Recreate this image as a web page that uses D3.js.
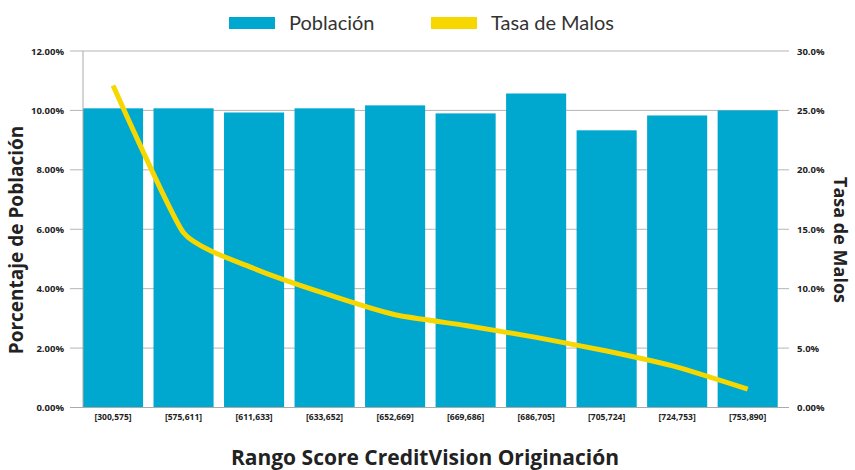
<!DOCTYPE html>
<meta charset="utf-8">
<style>
  body { margin: 0; background: #fff; }
  text { font-family: "Open Sans", Lato, sans-serif; fill: #222; }
</style>
<body>
<script src="https://cdn.jsdelivr.net/npm/d3@7"></script>
<script>
var rangos = ["[300,575]", "[575,611]", "[611,633]", "[633,652]", "[652,669]",
              "[669,686]", "[686,705]", "[705,724]", "[724,753]", "[753,890]"];
var poblacion = [10.07, 10.07, 9.93, 10.07, 10.17, 9.90, 10.57, 9.33, 9.83, 10.0];
var tasaMalos = [27.1, 14.7, 11.7, 9.6, 7.8, 6.9, 5.9, 4.75, 3.4, 1.55];
var ticksIzq = [0, 2, 4, 6, 8, 10, 12];
var ticksDer = [0, 5, 10, 15, 20, 25, 30];

var width = 855, height = 470;
// note: "top" is taken by window.top, so plot edges get their own names
var plotLeft = 83, plotRight = 789, plotTop = 51, plotBottom = 407.5;
var azul = "#00a7cf", amarillo = "#f6d800";

var svg = d3.select("body").append("svg")
  .attr("width", width)
  .attr("height", height);

var x = d3.scaleBand()
  .domain(rangos)
  .range([plotLeft, plotRight])
  .paddingInner(0.148)
  .paddingOuter(0.08)
  .align(0);

var y = d3.scaleLinear().domain([0, 12]).range([plotBottom, plotTop]);
var y2 = d3.scaleLinear().domain([0, 30]).range([plotBottom, plotTop]);

// gridlines behind everything
svg.append("g")
  .selectAll("line")
  .data(ticksIzq)
  .join("line")
  .attr("x1", 70)
  .attr("x2", plotRight)
  .attr("y1", d => y(d))
  .attr("y2", d => y(d))
  .style("stroke", "#b5b5b5")
  .style("stroke-width", 1);

// bars
svg.append("g")
  .selectAll("rect")
  .data(poblacion)
  .join("rect")
  .attr("x", (d, i) => x(rangos[i]))
  .attr("y", d => y(d))
  .attr("width", x.bandwidth())
  .attr("height", d => y(0) - y(d))
  .style("fill", azul);

// axis lines
svg.append("line")
  .attr("x1", plotLeft).attr("x2", plotLeft)
  .attr("y1", plotTop).attr("y2", plotBottom)
  .style("stroke", "#aaa");
svg.append("line")
  .attr("x1", 70).attr("x2", plotRight)
  .attr("y1", plotBottom).attr("y2", plotBottom)
  .style("stroke", "#aaa");

// left ticks
var axisL = d3.axisLeft(y).tickValues(ticksIzq).tickSize(0).tickPadding(0)
  .tickFormat(d => d.toFixed(2) + "%");
var gL = svg.append("g").attr("transform", "translate(64,0)").call(axisL);
gL.select(".domain").remove();
gL.selectAll("text").style("font-size", "9.5px").style("font-weight", "bold");

// right ticks
var axisR = d3.axisRight(y2).tickValues(ticksDer).tickSize(0).tickPadding(0)
  .tickFormat(d => d === 0 ? "0.00%" : d.toFixed(1) + "%");
var gR = svg.append("g").attr("transform", "translate(797,0)").call(axisR);
gR.select(".domain").remove();
gR.selectAll("text").style("font-size", "9.5px").style("font-weight", "bold");

// bottom ticks
var axisB = d3.axisBottom(x).tickSize(0).tickPadding(0);
var gB = svg.append("g").attr("transform", "translate(0," + (plotBottom + 6) + ")").call(axisB);
gB.select(".domain").remove();
gB.selectAll("text").style("font-size", "8.5px").style("font-weight", "bold");

// Tasa de Malos line
var linea = d3.line()
  .x((d, i) => x(rangos[i]) + x.bandwidth() / 2)
  .y(d => y2(d))
  .curve(d3.curveCardinal.tension(0.5));

svg.append("path")
  .datum(tasaMalos)
  .attr("d", linea)
  .style("fill", "none")
  .style("stroke", amarillo)
  .style("stroke-width", 5);

// axis titles
svg.append("text")
  .attr("transform", "translate(23,240) rotate(-90)")
  .attr("text-anchor", "middle")
  .style("font-size", "19px")
  .style("font-weight", "bold")
  .text("Porcentaje de Población");

svg.append("text")
  .attr("transform", "translate(834,240) rotate(90)")
  .attr("text-anchor", "middle")
  .style("font-size", "18px")
  .style("font-weight", "bold")
  .text("Tasa de Malos");

svg.append("text")
  .attr("x", 425)
  .attr("y", 465)
  .attr("text-anchor", "middle")
  .style("font-size", "21px")
  .style("font-weight", "bold")
  .text("Rango Score CreditVision Originación");

// legend
var leyenda = [
  { nombre: "Población", color: azul, x: 229 },
  { nombre: "Tasa de Malos", color: amarillo, x: 431 }
];
var lg = svg.append("g").selectAll("g").data(leyenda).join("g")
  .attr("transform", d => "translate(" + d.x + ",0)");
lg.append("rect")
  .attr("y", 17).attr("width", 46).attr("height", 12)
  .style("fill", d => d.color);
lg.append("text")
  .attr("x", 60).attr("y", 30)
  .style("font-size", "20px")
  .style("fill", "#333")
  .style("font-family", "Lato, sans-serif")
  .text(d => d.nombre);
</script>
</body>
